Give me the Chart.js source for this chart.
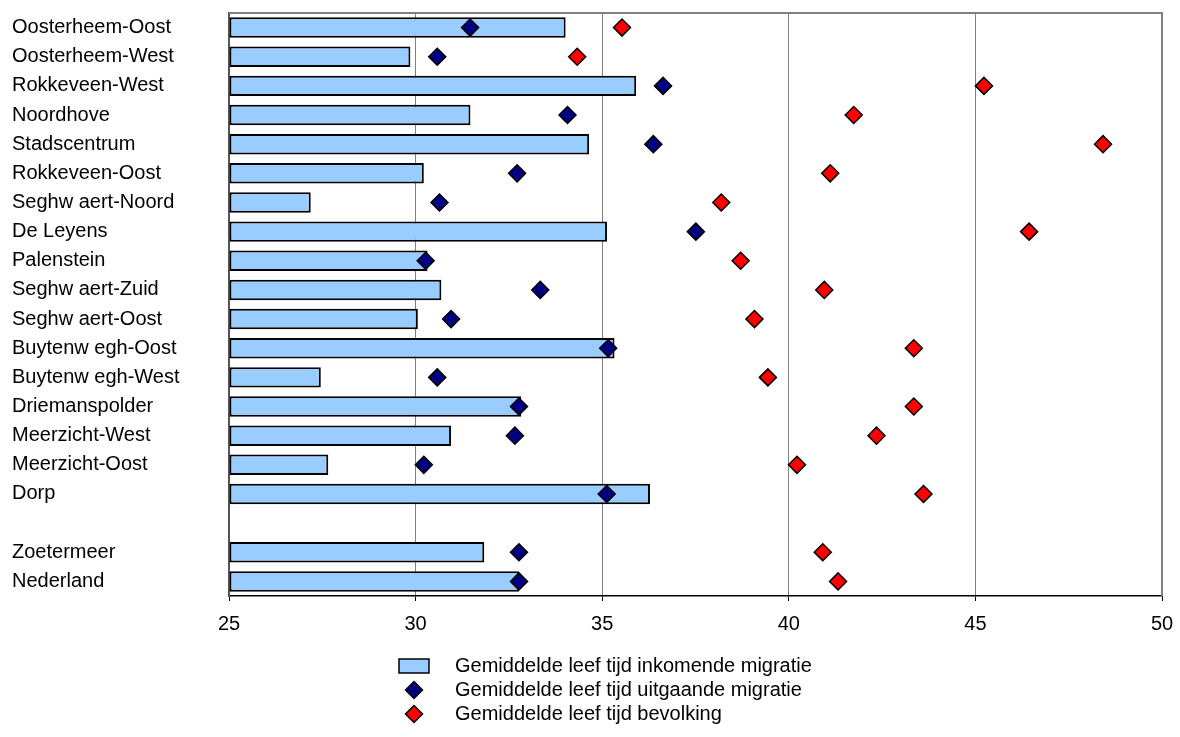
<!DOCTYPE html>
<html>
<head>
<meta charset="utf-8">
<script src="https://cdn.jsdelivr.net/npm/chart.js@4.4.1/dist/chart.umd.min.js"></script>
<style>
html,body{margin:0;padding:0;background:#ffffff;}
#wrap{width:1180px;height:737px;position:relative;}
</style>
</head>
<body>
<div id="wrap"><canvas id="c" width="1180" height="737"></canvas></div>
<script>
const categories = [
  'Oosterheem-Oost','Oosterheem-West','Rokkeveen-West','Noordhove','Stadscentrum',
  'Rokkeveen-Oost','Seghw aert-Noord','De Leyens','Palenstein','Seghw aert-Zuid',
  'Seghw aert-Oost','Buytenw egh-Oost','Buytenw egh-West','Driemanspolder',
  'Meerzicht-West','Meerzicht-Oost','Dorp','','Zoetermeer','Nederland'
];
const inkomendeMigratie = [34.02,29.86,35.91,31.47,34.65,30.22,27.19,35.13,30.32,30.69,30.06,35.33,27.46,32.83,30.95,27.66,36.28,null,31.84,32.77];
const uitgaandeMigratie = [31.46,30.58,36.63,34.07,36.37,32.72,30.64,37.51,30.27,33.34,30.95,35.16,30.58,32.77,32.66,30.22,35.12,null,32.77,32.77];
const bevolking = [35.53,34.33,45.23,41.74,48.42,41.11,38.19,46.44,38.71,40.95,39.08,43.35,39.44,43.35,42.35,40.22,43.61,null,40.91,41.32];
const xTickValues = [25,30,35,40,45,50];
const seriesLabels = [
  'Gemiddelde leef tijd inkomende migratie',
  'Gemiddelde leef tijd uitgaande migratie',
  'Gemiddelde leef tijd bevolking'
];

const FONT = "'Liberation Sans', Arial, sans-serif";

const framePlugin = {
  id: 'frame',
  beforeDatasetsDraw(chart) {
    const a = chart.chartArea, ctx = chart.ctx;
    ctx.save();
    ctx.strokeStyle = '#808080';
    ctx.lineWidth = 2;
    ctx.beginPath();
    ctx.moveTo(a.left, a.top); ctx.lineTo(a.right, a.top); ctx.lineTo(a.right, a.bottom);
    ctx.stroke();
    ctx.restore();
  }
};

const legendPlugin = {
  id: 'customLegend',
  afterDraw(chart) {
    const ctx = chart.ctx;
    const ds = chart.data.datasets;
    const ys = [666, 690, 714];
    ctx.save();
    ctx.font = '20px ' + FONT;
    ctx.textBaseline = 'middle';
    ctx.fillStyle = ds[0].backgroundColor;
    ctx.fillRect(399, ys[0] - 7, 30, 14);
    ctx.strokeStyle = '#000';
    ctx.lineWidth = 1.5;
    ctx.strokeRect(399, ys[0] - 7, 30, 14);
    [1, 2].forEach(i => {
      const cx = 414, cy = ys[i], r = 8.5;
      ctx.beginPath();
      ctx.moveTo(cx, cy - r); ctx.lineTo(cx + r, cy); ctx.lineTo(cx, cy + r); ctx.lineTo(cx - r, cy); ctx.closePath();
      ctx.fillStyle = ds[i].backgroundColor;
      ctx.fill();
      ctx.lineWidth = 1.5;
      ctx.strokeStyle = '#000';
      ctx.stroke();
    });
    ctx.fillStyle = '#000';
    ds.forEach((d, i) => ctx.fillText(d.label, 455, ys[i]));
    ctx.restore();
  }
};

new Chart(document.getElementById('c'), {
  data: {
    labels: categories,
    datasets: [
      {
        type: 'bar',
        label: seriesLabels[0],
        data: inkomendeMigratie,
        base: xTickValues[0],
        backgroundColor: '#99CCFF',
        borderColor: '#000000',
        borderWidth: 2,
        borderSkipped: false,
        barPercentage: 0.7,
        categoryPercentage: 1.0,
        order: 3
      },
      {
        type: 'line',
        label: seriesLabels[1],
        data: uitgaandeMigratie,
        showLine: false,
        pointStyle: 'rectRot',
        pointRadius: 8.5,
        pointHoverRadius: 8.5,
        backgroundColor: '#000080',
        borderColor: '#000000',
        pointBorderWidth: 1.5,
        order: 2
      },
      {
        type: 'line',
        label: seriesLabels[2],
        data: bevolking,
        showLine: false,
        pointStyle: 'rectRot',
        pointRadius: 8.5,
        pointHoverRadius: 8.5,
        backgroundColor: '#FF0000',
        borderColor: '#000000',
        pointBorderWidth: 1.5,
        order: 1
      }
    ]
  },
  options: {
    indexAxis: 'y',
    responsive: false,
    animation: false,
    events: [],
    layout: { padding: { left: 12, top: 13, right: 18, bottom: 0 } },
    plugins: {
      legend: { display: false },
      tooltip: { enabled: false }
    },
    scales: {
      x: {
        type: 'linear',
        position: 'bottom',
        min: xTickValues[0],
        max: xTickValues[xTickValues.length - 1],
        afterBuildTicks(scale) { scale.ticks = xTickValues.map(v => ({ value: v })); },
        afterFit(scale) { scale.height = 141; scale.paddingRight = 0; scale.paddingLeft = 0; },
        ticks: {
          color: '#000',
          font: { family: FONT, size: 20 },
          padding: 11
        },
        grid: {
          color: '#808080',
          lineWidth: 1,
          tickColor: '#000',
          tickLength: 5
        },
        border: { color: '#000', width: 1.5 }
      },
      y: {
        type: 'category',
        offset: true,
        afterFit(scale) { scale.width = 217; scale.paddingTop = 0; scale.paddingBottom = 0; },
        ticks: {
          color: '#000',
          crossAlign: 'far',
          font: { family: FONT, size: 20 },
          autoSkip: false,
          padding: 0
        },
        grid: { display: false, drawTicks: false },
        border: { color: '#555555', width: 2 }
      }
    }
  },
  plugins: [framePlugin, legendPlugin]
});
</script>
</body>
</html>
